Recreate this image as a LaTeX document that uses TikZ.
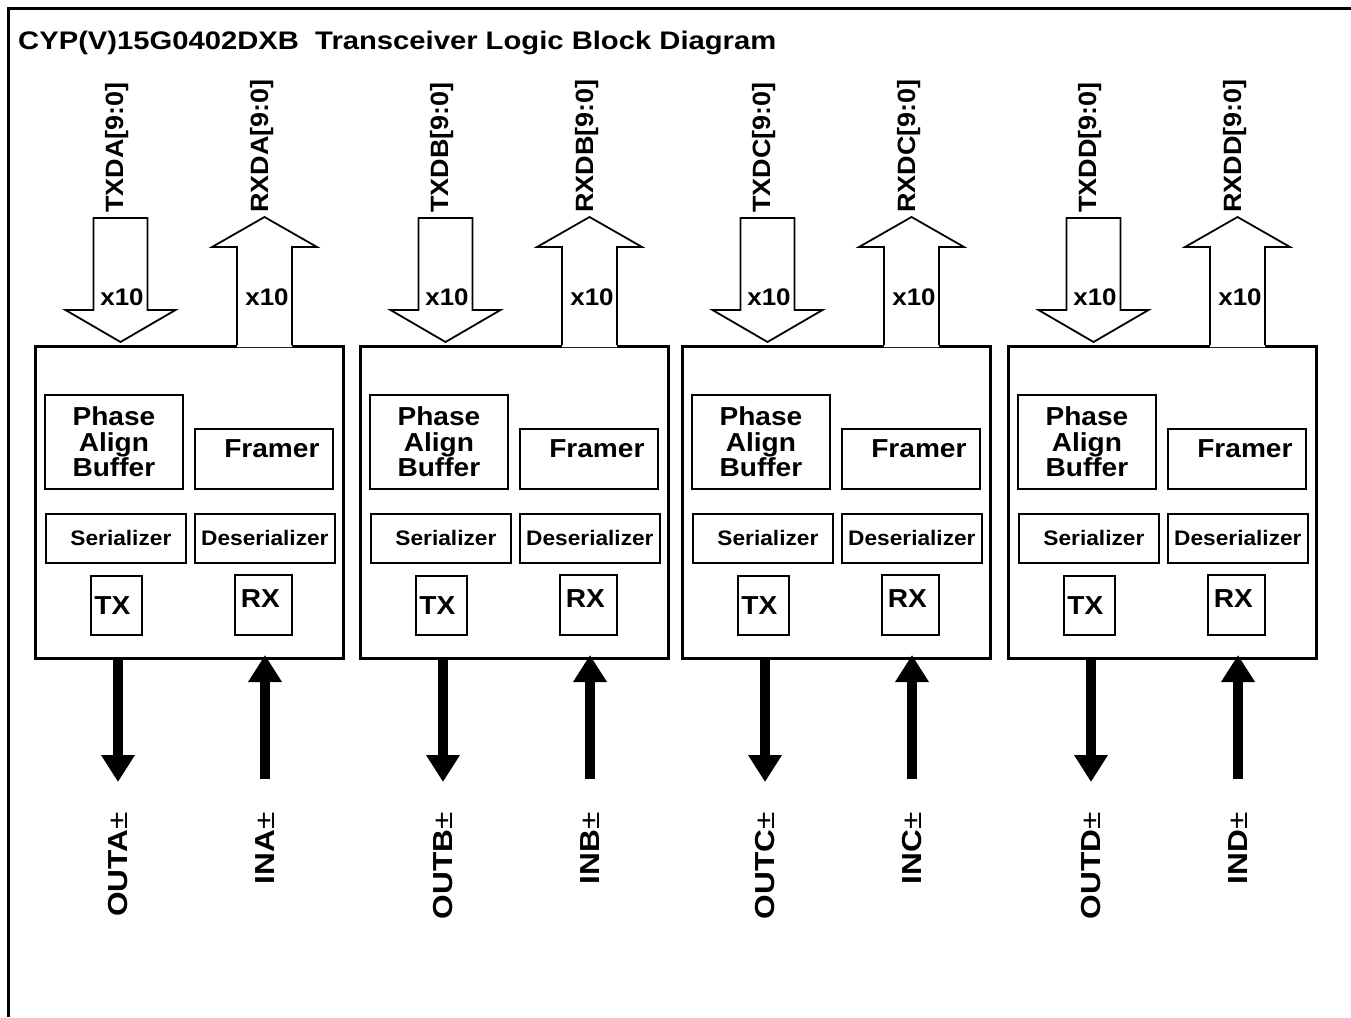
\documentclass[tikz,border=0pt]{standalone}
\usepackage{fontspec}
\setmainfont{Liberation Sans}[FakeStretch=1.08]
\newfontfamily\titlefont{Liberation Sans}[FakeStretch=1.15]
\newfontfamily\pinfont{Liberation Sans}[FakeStretch=1.15]
\usetikzlibrary{arrows.meta}

\tikzset{
  blockbox/.style={draw, line width=3pt, minimum width=308pt, minimum height=312pt, anchor=north west, inner sep=0pt},
  unitbox/.style={draw, line width=1.8pt, anchor=north west, inner sep=0pt, font=\bfseries\fontsize{26}{25.5}\selectfont},
  smallbox/.style={unitbox, font=\bfseries\fontsize{21}{21}\selectfont},
  buslabel/.style={rotate=90, anchor=west, inner sep=0pt, font=\bfseries\fontsize{25}{25}\selectfont},
  widthlabel/.style={inner sep=0pt, font=\bfseries\fontsize{24}{24}\selectfont},
  pinlabel/.style={rotate=90, anchor=east, inner sep=0pt, font=\pinfont\bfseries\fontsize{27.5}{27.5}\selectfont},
  busarrow/.style={line width=1.8pt, line join=miter},
  pinarrow/.style={line width=10.5pt, -{Triangle[width=32pt, length=27pt]}},
}

\begin{document}
\begin{tikzpicture}[x=1pt, y=-1pt]
    \useasboundingbox (0,0) rectangle (1351,1017);
    \draw[line width=3pt] (1351,8) -- (8,8) -- (8,1017);
    \node[anchor=base west, inner sep=0pt, font=\titlefont\bfseries\fontsize{25.4}{25.4}\selectfont] (title) at (18,49)
      {CYP(V)15G0402DXB\ \ Transceiver Logic Block Diagram};

    \foreach \x/\ch in {34/A,359/B,681/C,1007/D} {
      \begin{scope}[shift={(\x,0)}]
        \node[blockbox] (blk\ch) at (0,345) {};

        \node[unitbox, align=center, minimum width=138pt, minimum height=94pt] (pab\ch) at (10,394) {Phase\\Align\\Buffer};
        \node[unitbox, minimum width=138pt, minimum height=60pt, text depth=20pt] (frm\ch) at (160,428) {\hspace*{16pt}Framer};
        \node[smallbox, minimum width=140pt, minimum height=49pt] (ser\ch) at (11,513) {\hspace*{10pt}Serializer};
        \node[smallbox, minimum width=140pt, minimum height=49pt] (des\ch) at (160,513) {Deserializer};
        \node[unitbox, minimum width=51pt, minimum height=59pt] (tx\ch) at (56,575) {TX\hspace*{8pt}};
        \node[unitbox, minimum width=57pt, minimum height=60pt, text depth=12pt] (rx\ch) at (200,574) {RX\hspace*{6pt}};

        % parallel bus in (hollow, pointing down)
        \draw[busarrow, fill=white] (59.5,218) -- (113.5,218) -- (113.5,310) -- (141.5,310)
          -- (86.5,342) -- (31.5,310) -- (59.5,310) -- cycle;
        % parallel bus out, open into the block
        \fill[white] (203,347) -- (203,247) -- (178,247) -- (230.5,217) -- (283,247) -- (258,247) -- (258,347) -- cycle;
        \draw[busarrow] (203,345) -- (203,247) -- (178,247) -- (230.5,217) -- (283,247) -- (258,247) -- (258,345);

        \node[buslabel] (txd\ch) at (83,213) {TXD\ch[9:0]};
        \node[buslabel] (rxd\ch) at (228,213) {RXD\ch[9:0]};
        \node[widthlabel] (txw\ch) at (88,297) {x10};
        \node[widthlabel] (rxw\ch) at (233,297) {x10};

        % serial pins
        \node[pinlabel] (out\ch) at (84,812) {OUT\ch{\mdseries ±}};
        \node[pinlabel] (in\ch) at (231,812) {IN\ch{\mdseries ±}};
        \draw[pinarrow, shorten >=30pt] (out\ch.east |- blk\ch.south) -- (out\ch.east);
        \draw[pinarrow, shorten <=33pt, shorten >=-5pt] (in\ch.east) -- (in\ch.east |- blk\ch.south);
      \end{scope}
    }
\end{tikzpicture}
\end{document}
